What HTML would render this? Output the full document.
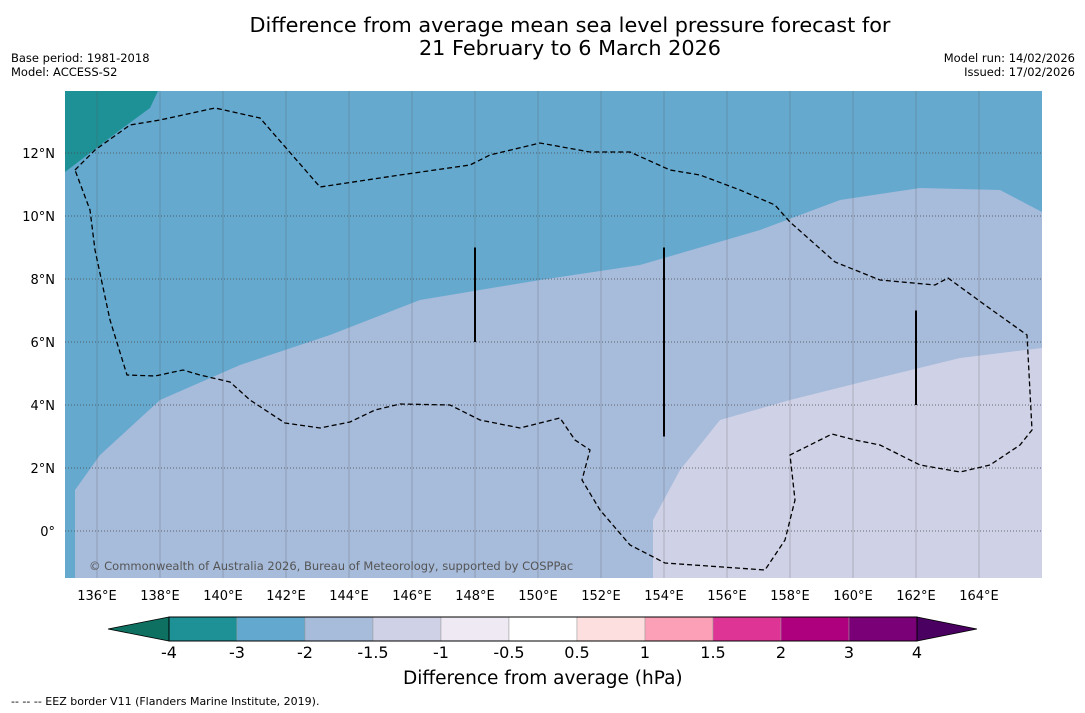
<!DOCTYPE html>
<html><head><meta charset="utf-8"><style>
body{margin:0;background:#fff;font-family:"DejaVu Sans",sans-serif;}
#wrap{position:relative;width:1085px;height:713px;overflow:hidden;}
.t{position:absolute;white-space:nowrap;color:#000;}
</style></head><body>
<div id="wrap">
<div class="t" style="left:0;width:1140px;text-align:center;top:14px;font-size:20.8px;line-height:23px;">Difference from average mean sea level pressure forecast for<br>21 February to 6 March 2026</div>
<div class="t" style="left:11px;top:51px;font-size:11.5px;line-height:14px;">Base period: 1981-2018<br>Model: ACCESS-S2</div>
<div class="t" style="right:10px;top:51px;font-size:11.5px;line-height:14px;text-align:right;">Model run: 14/02/2026<br>Issued: 17/02/2026</div>
<svg id="map" width="1085" height="713" style="position:absolute;left:0;top:0"></svg>
<div class="t" style="left:403px;top:668px;font-size:18.5px;">Difference from average (hPa)</div>
<div class="t" style="left:11px;top:695px;font-size:11px;">--  --  -- EEZ border V11 (Flanders Marine Institute, 2019).</div>
</div>
<script>
const lonTicks=[136,138,140,142,144,146,148,150,152,154,156,158,160,162,164];
const latTicks=[0,2,4,6,8,10,12];
const cbLabels=["-4","-3","-2","-1.5","-1","-0.5","0.5","1","1.5","2","3","4"];
const cbColors=["#1e9196","#63a8cf","#a7bbdb","#cfd1e6","#eee9f2","#ffffff","#fedfdf","#fba0b6","#de3496","#ae007e","#7a0077"];
const X=lon=>97+(lon-136)*31.5, Y=lat=>531-lat*31.5;
const ns="http://www.w3.org/2000/svg", svg=document.getElementById('map');
function mk(tag,attrs,parent){const e=document.createElementNS(ns,tag);for(const k in attrs)e.setAttribute(k,attrs[k]);(parent||svg).appendChild(e);return e;}
const P=a=>a.map(p=>p.join(',')).join(' ');
let e;
e=mk('rect',{x:65,y:91,width:977,height:487,fill:'#65a9cf'});


e=mk('polygon',{points:P([[65,91],[158,91],[150,108],[120,130],[65,172]]),fill:'#1e9196'});


e=mk('polygon',{points:P([[75,578],[75,490],[100,455],[160,400],[240,365],[330,335],[420,300],[540,280],[640,265],[760,230],[840,200],[920,188],[1000,190],[1042,212],[1042,578]]),fill:'#a7bbdb'});


e=mk('polygon',{points:P([[653,578],[653,520],[680,470],[720,420],[790,400],[870,380],[960,358],[1042,348],[1042,578]]),fill:'#cfd1e6'});


lonTicks.forEach(l=>{
 e=mk('line',{x1:X(l),x2:X(l),y1:91,y2:578,stroke:'#555',"stroke-width":0.7,"stroke-opacity":0.4});
 
 
 e=mk('text',{x:X(l),y:600,"font-size":13,"text-anchor":"middle","font-family":"DejaVu Sans"});e.textContent=l+'°E';
 
 
});
latTicks.forEach(l=>{
 e=mk('line',{x1:65,x2:1042,y1:Y(l),y2:Y(l),stroke:'#444',"stroke-width":0.8,"stroke-dasharray":"1,2"});
 
 
 e=mk('text',{x:55,y:Y(l)+5,"font-size":13,"text-anchor":"end","font-family":"DejaVu Sans"});e.textContent=l===0?'0°':l+'°N';
 
 
});
e=mk('polyline',{points:P([[75,170],[95,150],[130,125],[160,120],[215,108],[260,118],[320,187],[400,175],[470,165],[490,155],[540,143],[590,152],[630,152],[670,170],[700,175],[740,190],[775,205],[790,222],[835,262],[880,280],[935,285],[948,278],[985,305],[1027,335],[1032,430],[1020,445],[990,465],[960,472],[920,465],[880,445],[855,440],[832,434],[790,455],[795,500],[785,540],[765,570],[665,563],[630,545],[600,510],[582,480],[590,450],[575,440],[560,418],[520,428],[480,420],[450,405],[400,404],[375,410],[350,422],[320,428],[285,423],[250,400],[230,382],[200,375],[183,370],[155,376],[127,375],[110,320],[95,250],[90,210],[75,170]]),fill:'none',stroke:'#000',"stroke-width":1.3,"stroke-dasharray":"5,3"});


[[148,9,6],[154,9,3],[162,7,4]].forEach(s=>{
 e=mk('line',{x1:X(s[0]),x2:X(s[0]),y1:Y(s[1]),y2:Y(s[2]),stroke:'#000',"stroke-width":2});
 
 
});
e=mk('text',{x:89,y:570,"font-size":11.5,fill:'#555',"font-family":"DejaVu Sans"});e.textContent='© Commonwealth of Australia 2026, Bureau of Meteorology, supported by COSPPac';


const cbX0=169,cbW=68,cbY=617,cbH=24;
e=mk('polygon',{points:P([[108,629],[cbX0,cbY],[cbX0,cbY+cbH]]),fill:'#0e7060',stroke:'#000',"stroke-width":0.8});


cbColors.forEach((c,i)=>{
 e=mk('rect',{x:cbX0+i*cbW,y:cbY,width:cbW,height:cbH,fill:c,stroke:'#999',"stroke-width":0.5});
 
 
});
const cbEnd=cbX0+cbColors.length*cbW;
e=mk('polygon',{points:P([[cbEnd,cbY],[977,629],[cbEnd,cbY+cbH]]),fill:'#4a0060',stroke:'#000',"stroke-width":0.8});


e=mk('rect',{x:cbX0,y:cbY,width:cbEnd-cbX0,height:cbH,fill:'none',stroke:'#000',"stroke-width":1});


cbLabels.forEach((t,i)=>{
 e=mk('text',{x:cbX0+i*cbW,y:658,"font-size":16,"text-anchor":"middle","font-family":"DejaVu Sans"});e.textContent=t;
 
 
});
</script>
</body></html>
